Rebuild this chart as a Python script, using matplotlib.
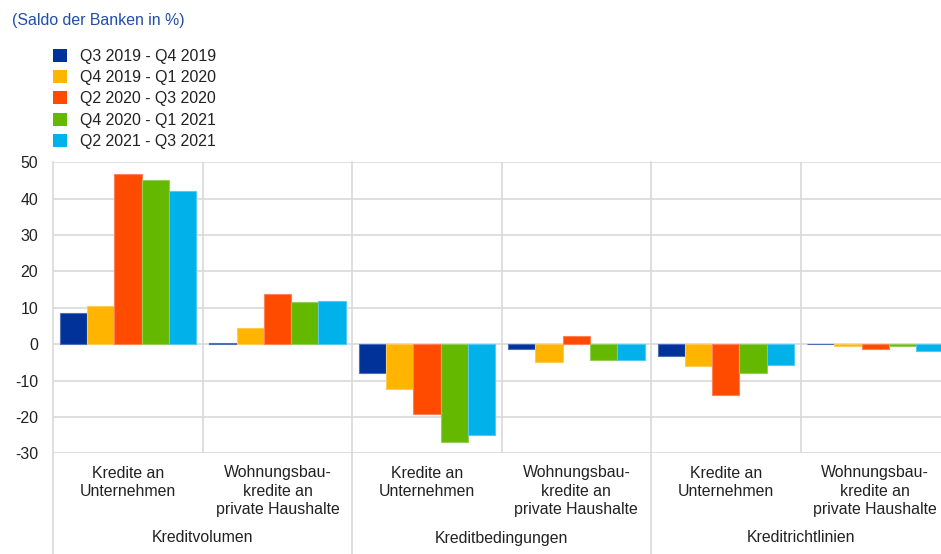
import matplotlib
matplotlib.use("Agg")
import matplotlib.pyplot as plt
import matplotlib.transforms as mtransforms
import numpy as np

plt.rcParams['font.family'] = ['Liberation Sans', 'DejaVu Sans']

# Data
periods = ["Q3 2019 - Q4 2019", "Q4 2019 - Q1 2020", "Q2 2020 - Q3 2020",
           "Q4 2020 - Q1 2021", "Q2 2021 - Q3 2021"]
subcategories = ["Kredite an\nUnternehmen", "Wohnungsbau-\nkredite an\nprivate Haushalte",
                 "Kredite an\nUnternehmen", "Wohnungsbau-\nkredite an\nprivate Haushalte",
                 "Kredite an\nUnternehmen", "Wohnungsbau-\nkredite an\nprivate Haushalte"]
groups = ["Kreditvolumen", "Kreditbedingungen", "Kreditrichtlinien"]

q3_2019_q4_2019 = [8.6, 0.4, -7.9, -1.3, -3.3, 0.0]
q4_2019_q1_2020 = [10.6, 4.4, -12.4, -4.9, -5.9, -0.5]
q2_2020_q3_2020 = [46.7, 13.8, -19.2, 2.3, -14.0, -1.4]
q4_2020_q1_2021 = [45.1, 11.6, -26.9, -4.3, -8.0, -0.4]
q2_2021_q3_2021 = [42.1, 11.8, -25.0, -4.3, -5.8, -1.8]
series = [q3_2019_q4_2019, q4_2019_q1_2020, q2_2020_q3_2020,
          q4_2020_q1_2021, q2_2021_q3_2021]

colors = ["#003299", "#FFB400", "#FF4B00", "#65B800", "#00B1EA"]
edge_colors = ["#4d6fb8", "#ffca55", "#ff8155", "#94cf55", "#55c9f0"]

FS = 11.4
W, H = 941, 554
fig = plt.figure(figsize=(W / 100, H / 100), dpi=100)

left, right = 53.3, 950.0
top, bottom = 162.3, 453.3
ax = fig.add_axes([left / W, 1 - bottom / H, (right - left) / W, (bottom - top) / H])

grid_c = "#d9d9d9"
n = len(series)
bw = 0.913 / n
x = np.arange(len(subcategories))
for j, (vals, c, ec) in enumerate(zip(series, colors, edge_colors)):
    ax.bar(x + (j - (n - 1) / 2) * bw, vals, width=bw, color=c,
           edgecolor=ec, linewidth=0.8, zorder=3, label=periods[j])

ax.set_xlim(-0.5, len(subcategories) - 0.5)
ax.set_ylim(-30, 50)
ax.set_yticks(np.arange(-30, 51, 10))
ax.set_yticklabels([str(v) for v in range(-30, 51, 10)], fontsize=FS, color="#222222")
ax.tick_params(axis='y', length=0, pad=10.8)
ax.set_xticks([])
for s in ax.spines.values():
    s.set_visible(False)
for yv in range(-30, 51, 10):
    ax.axhline(yv, color=grid_c, lw=1.2, zorder=1)

# Separators between subcategories (inside plot only)
for xv in [0.5, 2.5, 4.5]:
    ax.axvline(xv, color=grid_c, lw=1.2, zorder=1)

# Group separators extend down through the label area
trans = mtransforms.blended_transform_factory(ax.transData, ax.transAxes)
y_fig_bottom = -(H - bottom) / (bottom - top)
for xv in [-0.5, 1.5, 3.5]:
    ax.plot([xv, xv], [1, y_fig_bottom], transform=trans, color=grid_c,
            lw=1.2, clip_on=False, zorder=1)

# Category labels
def ax_y(py):
    return (bottom - py) / (bottom - top)

for i, lab in enumerate(subcategories):
    ax.text(i, ax_y(465.5), lab, transform=trans, ha='center', va='top',
            fontsize=FS, color="#222222", linespacing=1.28)
for g, lab in enumerate(groups):
    ax.text(2 * g + 0.5, ax_y(538), lab, transform=trans, ha='center',
            va='center', fontsize=FS, color="#222222")

# Title
fig.text(12 / W, 1 - 20 / H, "(Saldo der Banken in %)", ha='left', va='center',
         fontsize=FS, color="#1f4fa8")

# Legend
handles, labels = ax.get_legend_handles_labels()
leg = fig.legend(handles, labels, loc='upper left',
                 bbox_to_anchor=(53 / W, 1 - 48.5 / H), frameon=False,
                 fontsize=FS, handlelength=0.89, handleheight=0.89,
                 handletextpad=0.82, labelspacing=0.40, borderpad=0,
                 borderaxespad=0)
for t in leg.get_texts():
    t.set_color("#222222")
for h in leg.legend_handles:
    h.set_linewidth(0)

fig.savefig("out.png", dpi=100)
